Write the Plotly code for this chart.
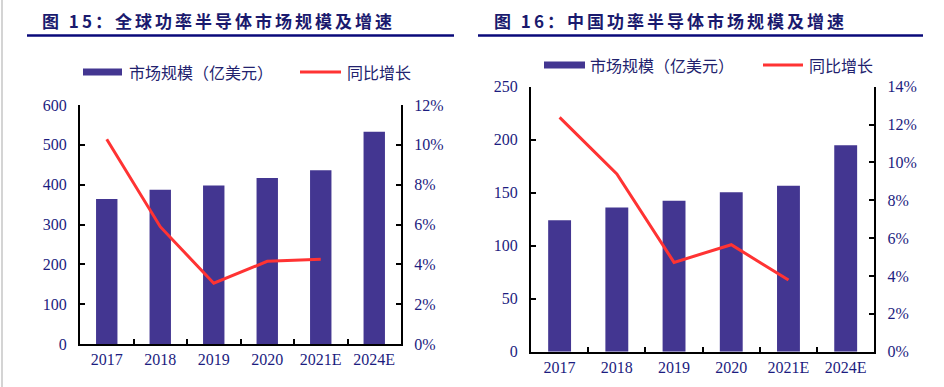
import plotly.graph_objects as go

categories = ["2017", "2018", "2019", "2020", "2021E", "2024E"]

global_size = [364, 387, 398, 417, 436, 533]
global_growth = [0.1028, 0.0589, 0.0305, 0.0415, 0.0425, None]

china_size = [124, 136, 142.5, 150.4, 156.6, 194.7]
china_growth = [0.1238, 0.0939, 0.0472, 0.0565, 0.0379, None]

left_title = "图 15：全球功率半导体市场规模及增速"
right_title = "图 16：中国功率半导体市场规模及增速"
bar_name = "市场规模（亿美元）"
line_name = "同比增长"

W, H = 944, 387
BAR = "#433691"
RED = "#FF3333"
NAVY = "#1c1c80"
TICKFONT = dict(family="Liberation Serif", size=16, color=NAVY)
PAD = "\u00a0\u00a0"

def px(x):
    return x / W

def py(y):
    return 1 - y / H

fig = go.Figure()

fig.add_trace(go.Bar(x=categories, y=global_size, width=0.4, marker=dict(color=BAR, line=dict(width=0)),
                     xaxis="x", yaxis="y", showlegend=False, name=bar_name))
fig.add_trace(go.Scatter(x=categories, y=global_growth, mode="lines", line=dict(color=RED, width=3),
                         xaxis="x", yaxis="y2", showlegend=False, name=line_name))
fig.add_trace(go.Bar(x=categories, y=china_size, width=0.4, marker=dict(color=BAR, line=dict(width=0)),
                     xaxis="x2", yaxis="y3", showlegend=False, name=bar_name))
fig.add_trace(go.Scatter(x=categories, y=china_growth, mode="lines", line=dict(color=RED, width=3),
                         xaxis="x2", yaxis="y4", showlegend=False, name=line_name))

def xax(**kw):
    d = dict(type="category", range=[-0.5, 5.5], showline=True, linecolor="black", linewidth=2,
             ticks="inside", ticklen=5, tickwidth=1.5, tickcolor="black", tickson="boundaries",
             showgrid=False, tickfont=dict(TICKFONT), zeroline=False)
    d.update(kw)
    return d

def yax(**kw):
    d = dict(showline=True, linecolor="black", linewidth=2, ticks="inside", ticklen=5, tickwidth=1.5,
             tickcolor="black", showgrid=False, zeroline=False, tickfont=dict(TICKFONT))
    d.update(kw)
    return d

fig.update_layout(
    width=W, height=H, margin=dict(l=0, r=0, t=0, b=0, autoexpand=False),
    paper_bgcolor="white", plot_bgcolor="white",
    xaxis=xax(domain=[px(80), px(401)], anchor="y"),
    yaxis=yax(domain=[py(344), py(105)], anchor="x", range=[0, 600], dtick=100, ticksuffix=PAD),
    yaxis2=yax(overlaying="y", side="right", anchor="x", range=[0, 0.12], dtick=0.02, tickformat=".0%",
               tickprefix=PAD),
    xaxis2=xax(domain=[px(531), px(874.3)], anchor="y3"),
    yaxis3=yax(domain=[py(351.7), py(86.7)], anchor="x2", range=[0, 250], dtick=50, ticksuffix=PAD),
    yaxis4=yax(overlaying="y3", side="right", anchor="x2", range=[0, 0.14], dtick=0.02, tickformat=".0%",
               tickprefix=PAD),
)

shapes = []
annotations = []

shapes.append(dict(type="line", xref="paper", yref="paper", x0=px(2), x1=px(2), y0=0, y1=1,
                   line=dict(color="#d4d4d4", width=2)))

TITLEFONT = dict(family="Noto Sans CJK SC", size=17, color="#1a1a6e")
for title, x0, ux0, ux1 in [(left_title, 40, 27, 454), (right_title, 492, 478, 923)]:
    annotations.append(dict(text='<b><span style="letter-spacing:3px">' + title + "</span></b>",
                            xref="paper", yref="paper", x=px(x0), y=py(20),
                            xanchor="left", yanchor="middle", showarrow=False, font=TITLEFONT))
    shapes.append(dict(type="line", xref="paper", yref="paper", x0=px(ux0), x1=px(ux1),
                       y0=py(35.5), y1=py(35.5), line=dict(color="#0a0a7a", width=2.5)))

LEGFONT = dict(family="Noto Sans CJK SC", size=16, color="#22226e")
for (bx0, bx1, tx0, lx0, lx1, ltx0, yc) in [(83, 122, 127, 300, 341, 345, 72),
                                             (544, 585, 588, 763, 803, 807, 65)]:
    shapes.append(dict(type="rect", xref="paper", yref="paper", x0=px(bx0), x1=px(bx1),
                       y0=py(yc + 3.5), y1=py(yc - 3.5), fillcolor=BAR, line=dict(width=0)))
    annotations.append(dict(text=bar_name, xref="paper", yref="paper", x=px(tx0), y=py(yc),
                            xanchor="left", yanchor="middle", showarrow=False, font=LEGFONT))
    shapes.append(dict(type="line", xref="paper", yref="paper", x0=px(lx0), x1=px(lx1),
                       y0=py(yc), y1=py(yc), line=dict(color=RED, width=3)))
    annotations.append(dict(text=line_name, xref="paper", yref="paper", x=px(ltx0), y=py(yc),
                            xanchor="left", yanchor="middle", showarrow=False, font=LEGFONT))

fig.update_layout(shapes=shapes, annotations=annotations)

fig.write_html("out.html", config={"displayModeBar": False},
               post_script="document.body.style.margin='0px';")
